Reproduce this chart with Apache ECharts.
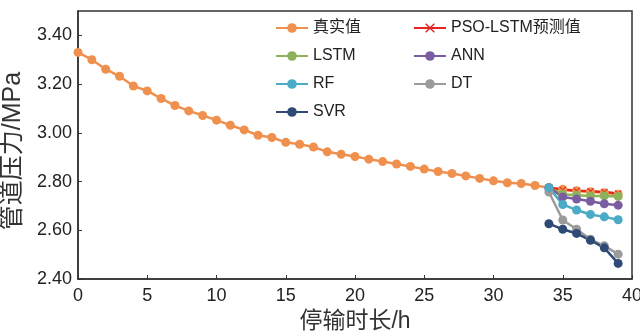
<!DOCTYPE html>
<html>
<head>
<meta charset="utf-8">
<script src="https://cdn.jsdelivr.net/npm/echarts@6/dist/echarts.min.js"></script>
<style>
  html, body { margin: 0; padding: 0; background: #fff; }
  #chart { width: 640px; height: 333px; }
</style>
</head>
<body>
<div id="chart"></div>
<script>
// 停输时长 (h)
const hoursTrue = [0,1,2,3,4,5,6,7,8,9,10,11,12,13,14,15,16,17,18,19,20,21,22,23,24,25,26,27,28,29,30,31,32,33,34,35,36,37,38,39];
const hoursPred = [34,35,36,37,38,39];

// 管道压力 (MPa)
const trueVals = [3.330,3.300,3.261,3.232,3.192,3.172,3.141,3.112,3.090,3.071,3.052,3.031,3.012,2.990,2.981,2.961,2.953,2.942,2.922,2.912,
  2.903,2.892,2.882,2.872,2.862,2.851,2.841,2.833,2.823,2.813,2.803,2.795,2.792,2.784,2.775,2.768,2.762,2.758,2.754,2.748];
const psoLstm = [2.775,2.766,2.762,2.760,2.757,2.751];
const lstm = [2.775,2.748,2.744,2.741,2.741,2.739];
const ann = [2.775,2.737,2.728,2.719,2.709,2.703];
const rf = [2.775,2.706,2.683,2.665,2.655,2.643];
const dt = [2.757,2.642,2.604,2.563,2.536,2.502];
const svr = [2.627,2.604,2.587,2.559,2.528,2.464];

const yTicks = ['2.40','2.60','2.80','3.00','3.20','3.40'];

const font = '"Liberation Sans", Arial, "Noto Sans CJK SC", sans-serif';
const crossPath = 'path://M1,0 L5,4 L9,0 L10,1 L6,5 L10,9 L9,10 L5,6 L1,10 L0,9 L4,5 L0,1 Z';

const pair = (xs, ys) => xs.map((x, i) => [x, ys[i]]);

const mk = (name, xs, ys, color, symbol, size) => ({
  name,
  type: 'line',
  data: pair(xs, ys),
  symbol: symbol || 'circle',
  symbolSize: size || 9,
  showSymbol: true,
  lineStyle: { color, width: 2.5 },
  itemStyle: { color },
  emphasis: { disabled: true }
});

const chart = echarts.init(document.getElementById('chart'));
chart.setOption({
  animation: false,
  backgroundColor: '#fff',
  textStyle: { fontFamily: font },
  grid: {
    left: 78, right: 8, top: 11, bottom: 54,
    outerBoundsMode: 'none', containLabel: false,
    show: true, borderColor: '#333', borderWidth: 1.5, backgroundColor: 'transparent'
  },
  legend: [
    {
      orient: 'vertical', left: 275, top: 20, padding: 0,
      itemWidth: 32, itemHeight: 12, itemGap: 12,
      textStyle: { fontSize: 16, color: '#222', fontFamily: font },
      data: ['真实值', 'LSTM', 'RF', 'SVR']
    },
    {
      orient: 'vertical', left: 413, top: 20, padding: 0,
      itemWidth: 32, itemHeight: 12, itemGap: 12,
      textStyle: { fontSize: 16, color: '#222', fontFamily: font },
      data: ['PSO-LSTM预测值', 'ANN', 'DT']
    }
  ],
  xAxis: {
    type: 'value', min: 0, max: 40, interval: 5,
    name: '停输时长/h', nameLocation: 'middle', nameGap: 27,
    nameTextStyle: { fontSize: 23, color: '#333', fontFamily: font },
    axisLine: { lineStyle: { color: '#333', width: 1.5 } },
    axisTick: { inside: true, length: 4, lineStyle: { color: '#333' } },
    axisLabel: { fontSize: 18, color: '#222', margin: 8 },
    splitLine: { show: false }
  },
  yAxis: {
    type: 'value', min: 2.4, max: 3.5, interval: 0.2,
    name: '管道压力/MPa', nameLocation: 'middle', nameGap: 36,
    nameTextStyle: { fontSize: 25, color: '#333', fontFamily: font, padding: [0, 12, 0, 0] },
    axisLine: { show: true, lineStyle: { color: '#333', width: 1.5 } },
    axisTick: { show: true, inside: true, length: 4, lineStyle: { color: '#333' } },
    axisLabel: {
      fontSize: 18, color: '#222', margin: 6, showMaxLabel: false,
      formatter: v => yTicks.find(t => Math.abs(parseFloat(t) - v) < 1e-6) || ''
    },
    splitLine: { show: false }
  },
  series: [
    mk('真实值', hoursTrue, trueVals, '#F0904E'),
    mk('PSO-LSTM预测值', hoursPred, psoLstm, '#E8231F', crossPath, 7),
    mk('LSTM', hoursPred, lstm, '#8DB35A'),
    mk('ANN', hoursPred, ann, '#7A5CA0'),
    mk('DT', hoursPred, dt, '#9B9B9B'),
    mk('RF', hoursPred, rf, '#4BAAC6'),
    mk('SVR', hoursPred, svr, '#2F4B75')
  ]
});
</script>
</body>
</html>
